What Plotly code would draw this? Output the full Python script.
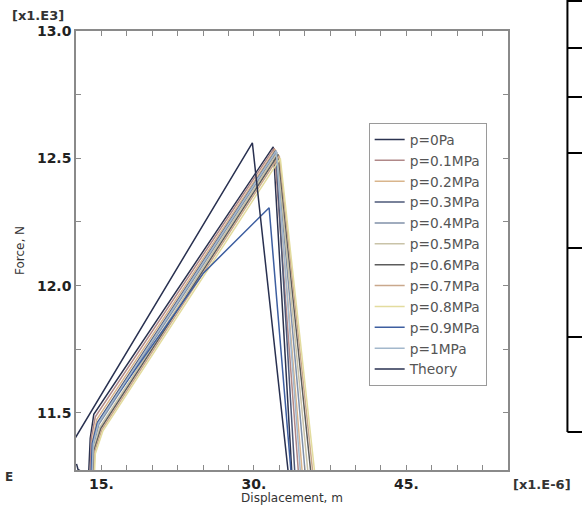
import plotly.graph_objects as go

# ---- data (displacement in 1e-6 m, force in 1e3 N) ----
series_names = ["p=0Pa", "p=0.1MPa", "p=0.2MPa", "p=0.3MPa", "p=0.4MPa", "p=0.5MPa",
                "p=0.6MPa", "p=0.7MPa", "p=0.8MPa", "p=0.9MPa", "p=1MPa", "Theory"]
series_colors = ["#2b3350", "#b08888", "#d9b58c", "#4d5878", "#8090a8", "#c9c3a8",
                 "#5c5c5c", "#c9a88c", "#e3dc9e", "#3d5ea0", "#a3b8cc", "#283050"]

x_p0 = [12.55, 12.7, 13.05, 13.70, 13.90, 14.25, 31.90, 33.9]
y_p0 = [11.30, 11.278, 11.27, 11.22, 11.40, 11.495, 12.545, 11.15]
x_p01 = [13.80, 14.00, 14.40, 32.00, 34.6]
y_p01 = [11.15, 11.40, 11.485, 12.540, 11.15]
x_p02 = [13.90, 14.10, 14.55, 32.10, 35.0]
y_p02 = [11.15, 11.39, 11.475, 12.535, 11.15]
x_p03 = [13.95, 14.15, 14.65, 32.15, 34.2]
y_p03 = [11.15, 11.38, 11.465, 12.530, 11.15]
x_p04 = [14.00, 14.20, 14.75, 32.25, 35.3]
y_p04 = [11.15, 11.37, 11.455, 12.525, 11.15]
x_p05 = [14.05, 14.25, 14.85, 32.30, 35.6]
y_p05 = [11.15, 11.36, 11.445, 12.520, 11.15]
x_p06 = [14.10, 14.30, 14.95, 32.40, 35.9]
y_p06 = [11.15, 11.355, 11.44, 12.515, 11.15]
x_p07 = [14.15, 14.35, 15.05, 32.50, 36.1]
y_p07 = [11.15, 11.35, 11.435, 12.510, 11.15]
x_p08 = [14.20, 14.40, 15.15, 32.60, 36.3]
y_p08 = [11.15, 11.34, 11.43, 12.500, 11.15]
x_p09 = [13.90, 14.10, 14.60, 25.05, 31.50, 33.9]
y_p09 = [11.15, 11.38, 11.46, 12.05, 12.306, 11.15]
x_p10 = [14.00, 14.20, 14.70, 32.20, 34.8]
y_p10 = [11.15, 11.38, 11.46, 12.530, 11.15]
x_theory = [12.30, 29.85, 33.70]
y_theory = [11.393, 12.561, 11.15]

series_x = [x_p0, x_p01, x_p02, x_p03, x_p04, x_p05, x_p06, x_p07, x_p08, x_p09, x_p10, x_theory]
series_y = [y_p0, y_p01, y_p02, y_p03, y_p04, y_p05, y_p06, y_p07, y_p08, y_p09, y_p10, y_theory]

x_tickvals = [15, 30, 45]
x_ticktext = ["15.", "30.", "45."]
y_tickvals = [11.5, 12.0, 12.5, 13.0]
y_ticktext = ["11.5", "12.0", "12.5", "13.0"]

fig = go.Figure()
for name, col, xs, ys in zip(series_names, series_colors, series_x, series_y):
    fig.add_trace(go.Scatter(x=xs, y=ys, mode="lines", name=name,
                             line=dict(color=col, width=1.5)))

W, H = 582, 505
L, R, T, B = 76, 73.5, 31, 35
pw, ph = W - L - R, H - T - B

def px(xp):
    return (xp - L) / pw

def py(yp):
    return (H - B - yp) / ph

axis_common = dict(showline=True, linecolor="#8a8a8a", linewidth=1.5, mirror="allticks",
                   ticks="inside", ticklen=5, tickcolor="#8a8a8a", tickwidth=1,
                   showgrid=False, zeroline=False, automargin=False,
                   tickfont=dict(family="DejaVu Sans", size=14, color="#222", weight="bold"))

fig.update_xaxes(range=[12.5, 55], tickmode="array", tickvals=x_tickvals, ticktext=x_ticktext,
                 minor=dict(dtick=2.5, tick0=0, ticks="inside", ticklen=5, tickcolor="#8a8a8a", showgrid=False),
                 title=dict(text="Displacement, m", font=dict(family="DejaVu Sans", size=12, color="#333"), standoff=5),
                 **axis_common)
fig.update_yaxes(range=[11.276, 13.0], tickmode="array", tickvals=y_tickvals, ticktext=y_ticktext,
                 minor=dict(dtick=0.25, tick0=0, ticks="inside", ticklen=5, tickcolor="#8a8a8a", showgrid=False),
                 title=dict(text="Force, N", font=dict(family="DejaVu Sans", size=12, color="#333"), standoff=10),
                 **axis_common)

# table lines on the right edge
shapes = [dict(type="line", xref="paper", yref="paper", x0=px(568), x1=px(568), y0=py(0), y1=py(432),
               line=dict(color="black", width=2))]
for yl in [1, 48, 97, 153, 248, 337, 432]:
    shapes.append(dict(type="line", xref="paper", yref="paper", x0=px(568), x1=px(584), y0=py(yl), y1=py(yl),
                       line=dict(color="black", width=2)))

annotations = [
    dict(text="[x1.E3]", xref="paper", yref="paper", x=px(10), y=py(16), xanchor="left", yanchor="middle",
         showarrow=False, font=dict(family="DejaVu Sans", size=13, color="#333", weight="bold")),
    dict(text="[x1.E-6]", xref="paper", yref="paper", x=px(512), y=py(484), xanchor="left", yanchor="middle",
         showarrow=False, font=dict(family="DejaVu Sans", size=13, color="#333", weight="bold")),
    dict(text="E", xref="paper", yref="paper", x=px(3), y=py(477), xanchor="left", yanchor="middle",
         showarrow=False, font=dict(family="DejaVu Sans", size=12, color="#333", weight="bold")),
]

fig.update_layout(
    width=W, height=H, margin=dict(l=L, r=R, t=T, b=B, autoexpand=False),
    paper_bgcolor="white", plot_bgcolor="white",
    shapes=shapes, annotations=annotations,
    legend=dict(x=px(369), y=py(123), xanchor="left", yanchor="top",
                bordercolor="#9a9a9a", borderwidth=1, bgcolor="white",
                font=dict(family="DejaVu Sans", size=13.75, color="#555")),
    showlegend=True,
)

fig.write_html("out.html", config={"displayModeBar": False},
               post_script="document.body.style.margin='0';document.body.style.overflow='hidden';")
